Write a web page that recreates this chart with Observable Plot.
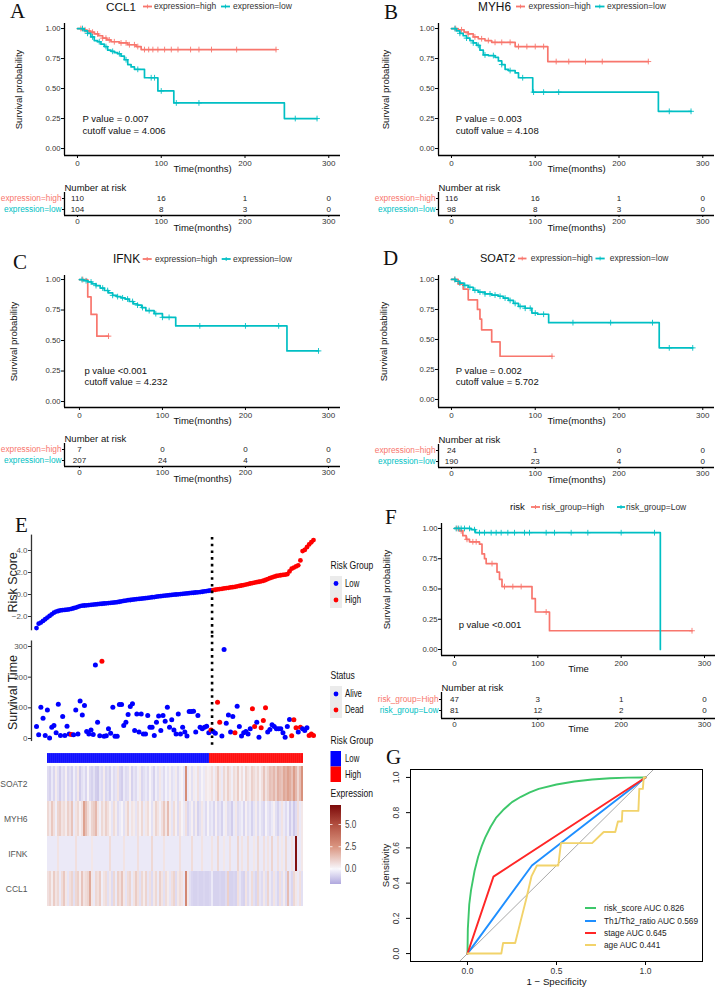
<!DOCTYPE html>
<html><head><meta charset="utf-8">
<script src="https://cdn.jsdelivr.net/npm/d3@7"></script>
<script src="https://cdn.jsdelivr.net/npm/@observablehq/plot@0.6"></script>
<style>
html,body{margin:0;padding:0;background:#fff;}
#fig{position:relative;width:716px;height:991px;overflow:hidden;background:#fff;}
</style></head><body><div id="fig"></div>
<script>
// ================= DATA =================
const kmTicks = [0, 100, 200, 300];
const survTicks = [0, 0.25, 0.5, 0.75, 1];
const exprGroups = ["expression=high", "expression=low"];
const riskGroupsKM = ["risk_group=High", "risk_group=Low"];

// A: CCL1
const ccl1HighTime = [0,5,10,15,20,25,30,35,40,50,60,70,76];
const ccl1HighSurv = [1,0.99,0.98,0.97,0.955,0.94,0.92,0.905,0.89,0.88,0.865,0.85,0.825];
const ccl1HighEnd = 237;
const ccl1HighCensor = [4,9,14,18,24,30,34,38,44,52,58,62,68,72,80,85,90,96,104,112,120,135,145,160,190,237];
const ccl1LowTime = [0,8,12,16,20,24,28,32,36,40,44,48,52,56,60,64,68,80,96,115,247];
const ccl1LowSurv = [1,0.98,0.96,0.93,0.9,0.89,0.87,0.85,0.82,0.81,0.8,0.79,0.77,0.74,0.7,0.68,0.66,0.59,0.48,0.38,0.25];
const ccl1LowEnd = 286;
const ccl1LowCensor = [6,12,18,26,34,42,50,58,72,88,92,100,118,145,260,286];
const ccl1AtRiskHigh = [110,16,1,0];
const ccl1AtRiskLow = [104,8,3,0];

// B: MYH6
const myh6HighTime = [0,8,15,20,26,32,40,48,76,115];
const myh6HighSurv = [1,0.99,0.97,0.955,0.93,0.915,0.9,0.885,0.85,0.725];
const myh6HighEnd = 235;
const myh6HighCensor = [5,12,20,28,36,44,52,60,70,80,90,100,110,125,140,160,180,235];
const myh6LowTime = [0,6,10,14,18,22,26,30,34,38,44,52,56,60,64,68,76,80,97,247];
const myh6LowSurv = [1,0.98,0.96,0.94,0.92,0.9,0.88,0.86,0.82,0.78,0.775,0.76,0.73,0.7,0.66,0.65,0.63,0.59,0.47,0.31];
const myh6LowEnd = 286;
const myh6LowCensor = [4,10,18,26,32,40,50,60,70,85,98,110,128,260,286];
const myh6AtRiskHigh = [116,16,1,0];
const myh6AtRiskLow = [98,8,3,0];

// C: IFNK
const ifnkHighTime = [0,10,14,21];
const ifnkHighSurv = [1,0.857,0.714,0.536];
const ifnkHighEnd = 35;
const ifnkHighCensor = [4,35];
const ifnkLowTime = [0,5,10,15,20,25,30,35,40,45,50,55,60,65,70,75,80,90,100,116,250];
const ifnkLowSurv = [1,0.99,0.98,0.965,0.95,0.93,0.91,0.89,0.87,0.86,0.85,0.84,0.82,0.8,0.79,0.77,0.745,0.72,0.69,0.62,0.415];
const ifnkLowEnd = 288;
const ifnkLowCensor = [3,8,14,20,28,34,40,46,52,58,64,70,76,84,92,100,108,145,200,240,288];
const ifnkAtRiskHigh = [7,0,0,0];
const ifnkAtRiskLow = [207,24,4,0];

// D: SOAT2
const soat2HighTime = [0,8,14,20,31,34,36,48,58];
const soat2HighSurv = [1,0.96,0.92,0.83,0.75,0.67,0.58,0.48,0.36];
const soat2HighEnd = 120;
const soat2HighCensor = [4,120];
const soat2LowTime = [0,5,10,15,20,26,32,40,48,56,62,68,74,80,88,96,103,116,248];
const soat2LowSurv = [1,0.985,0.97,0.95,0.935,0.91,0.895,0.88,0.87,0.86,0.845,0.825,0.8,0.775,0.76,0.72,0.71,0.64,0.43];
const soat2LowEnd = 288;
const soat2LowCensor = [4,10,16,22,28,34,40,46,52,58,64,70,76,82,88,94,100,110,145,190,240,260,288];
const soat2AtRiskHigh = [24,1,0,0];
const soat2AtRiskLow = [190,23,4,0];

// F: risk group
const riskHighTime = [0,6,10,14,18,30,33,36,38,51,54,57,93,97,114];
const riskHighSurv = [1,0.98,0.94,0.91,0.89,0.87,0.79,0.75,0.71,0.64,0.58,0.52,0.42,0.31,0.155];
const riskHighEnd = 285;
const riskHighCensor = [3,8,15,22,26,45,60,70,80,110,285];
const riskLowTime = [0,20,25,247];
const riskLowSurv = [1,0.99,0.965,0];
const riskLowEnd = 247;
const riskLowCensor = [2,5,8,12,18,24,30,36,44,50,56,64,72,84,90,110,120,140,160,200,240];
const riskAtRiskHigh = [47,3,1,0];
const riskAtRiskLow = [81,12,2,0];

// E: risk score, survival time, status (1 = dead)
const riskCutoff = 0.385;
const riskScore = [
 -3.05,-2.65,-2.55,-2.4,-2.25,-2.1,-1.95,-1.8,-1.65,-1.55,
 -1.5,-1.45,-1.42,-1.4,-1.38,-1.35,-1.3,-1.25,-1.2,-1.12,
 -1.05,-1.02,-1.0,-0.98,-0.96,-0.94,-0.92,-0.9,-0.88,-0.86,
 -0.84,-0.82,-0.8,-0.78,-0.76,-0.74,-0.72,-0.7,-0.66,-0.62,
 -0.58,-0.55,-0.52,-0.5,-0.47,-0.45,-0.42,-0.4,-0.38,-0.36,
 -0.33,-0.31,-0.28,-0.25,-0.23,-0.2,-0.17,-0.15,-0.12,-0.1,
 -0.08,-0.06,-0.04,-0.02,0.0,0.02,0.04,0.06,0.08,0.1,
 0.12,0.14,0.16,0.18,0.2,0.22,0.25,0.28,0.31,0.34,0.37,
 0.4,0.43,0.46,0.49,0.52,0.55,0.58,0.61,0.64,0.67,
 0.7,0.74,0.78,0.82,0.86,0.9,0.95,1.0,1.04,1.08,
 1.12,1.16,1.2,1.25,1.32,1.4,1.48,1.55,1.62,1.68,
 1.72,1.75,1.78,1.8,1.85,2.1,2.35,2.45,2.55,2.65,
 3.1,3.95,4.05,4.3,4.55,4.75,4.95];
const survTime = [
 39,12,102,66,10,93,2,37,42,19,
 112,10,72,10,40,15,13,12,93,15,
 122,77,108,23,15,28,13,240,53,9,
 252,7,9,32,17,102,7,7,111,111,
 42,53,78,104,113,26,80,21,80,15,
 15,75,37,37,10,53,73,26,75,56,
 102,37,61,28,15,80,15,37,21,8,
 88,88,89,21,75,37,32,37,40,19,
 28,23,17,118,53,8,290,50,77,21,
 72,19,105,39,8,19,23,15,32,97,
 39,53,4,35,59,100,21,29,45,39,
 32,32,32,19,4,39,62,9,61,35,
 21,37,32,26,35,10,15,10];
const survStatus = [
 0,0,0,0,0,0,0,0,0,0,
 0,0,0,0,0,0,1,0,0,0,
 0,0,0,0,0,0,0,0,0,0,
 1,0,0,0,0,0,0,0,0,0,
 0,0,0,0,0,0,0,0,0,0,
 0,0,0,0,0,0,0,0,0,0,
 0,0,0,0,0,0,0,0,0,0,
 0,0,0,0,0,0,0,0,0,0,
 1,0,0,1,1,0,0,0,0,0,
 0,1,0,0,0,0,0,0,0,1,
 1,0,0,1,1,1,0,0,0,0,
 0,0,0,0,0,0,0,1,1,1,
 0,1,0,0,0,1,1,1];

// E: heatmap expression
const heatGenes = ["SOAT2", "MYH6", "IFNK", "CCL1"];
const soat2Expr = [
 -0.6,-0.8,-0.3,-0.7,0.3,-0.5,-0.9,-0.4,-0.6,0.2,
 -0.7,-0.5,-0.8,-0.2,-0.6,0.4,-0.9,-0.5,-0.3,-0.7,
 0.1,-0.6,-0.8,-0.5,-0.9,-1.0,-0.4,-0.6,0.3,-0.7,
 -0.5,-0.8,-0.2,-0.6,-0.4,0.5,-0.7,-0.9,-0.3,-0.6,
 -0.5,0.2,-0.8,-0.4,-0.6,-0.2,0.3,-0.7,-0.5,-0.3,
 -0.6,0.1,-0.4,-0.8,-0.2,-0.5,0.4,-0.3,-0.6,-0.1,
 -0.4,0.2,-0.5,-0.3,0.3,-0.6,-0.2,0.1,-0.4,2.8,
 -0.3,0.2,-0.5,0.3,-0.2,0.6,-0.4,0.1,-0.3,0.4,0.2,
 0.3,0.6,-0.2,0.5,1.2,0.4,-0.3,0.8,0.3,1.0,
 0.5,-0.2,0.7,0.4,1.1,0.2,0.6,-0.1,0.9,0.5,
 0.3,1.0,0.7,0.4,0.8,0.2,0.6,1.3,0.5,0.9,
 1.4,1.2,1.6,1.0,1.8,1.5,1.3,2.0,1.7,2.2,
 1.9,1.4,2.3,1.6,0.8,1.5,2.6];
const myh6Expr = [
 0.8,0.4,1.2,0.6,-0.2,0.9,1.1,0.5,0.7,0.3,
 1.0,0.6,1.3,-0.3,0.5,0.8,0.2,0.6,2.2,1.4,
 0.7,0.3,0.9,1.1,1.6,0.5,-0.2,0.8,0.4,1.0,
 0.6,0.2,-0.4,0.7,0.3,-0.6,-0.3,0.1,-0.5,0.4,
 0.9,-0.2,0.5,0.3,-0.4,0.6,0.2,0.8,-0.3,0.4,
 0.7,0.1,-0.5,0.3,0.9,0.5,-0.2,0.6,1.2,0.4,
 1.5,0.3,-0.4,0.7,0.2,-0.6,0.5,0.1,-0.3,0.6,
 -0.7,-0.4,0.2,-0.6,0.3,-0.8,-0.5,0.4,-0.3,-0.6,0.1,
 -0.5,-0.3,-0.7,0.2,-0.6,-0.4,-0.8,-0.2,0.3,-0.6,
 -0.5,-0.9,-0.3,0.4,-0.6,-0.4,-0.2,-0.7,0.2,-0.5,
 -0.3,-0.8,-0.4,0.3,-0.6,-0.2,-0.5,-0.7,0.1,-0.4,
 -0.6,-0.3,0.2,-0.5,-0.8,-0.4,0.5,-0.3,-0.6,-0.2,
 -0.9,-0.4,-1.0,-0.6,0.6,-0.3,0.4];
const ifnkExpr = [
 -0.3,-0.3,-0.3,-0.3,-0.3,0.5,-0.3,-0.3,-0.3,-0.3,
 -0.3,-0.3,-0.3,-0.3,0.6,-0.3,-0.3,-0.3,-0.3,-0.3,
 -0.3,-0.3,0.4,-0.3,-0.3,-0.3,-0.3,-0.3,-0.3,-0.3,
 -0.3,0.7,-0.3,-0.3,-0.3,-0.3,-0.3,-0.3,0.5,-0.3,
 -0.3,-0.3,-0.3,-0.3,-0.3,0.6,-0.3,-0.3,-0.3,-0.3,
 -0.3,-0.3,0.8,-0.3,-0.3,-0.3,-0.3,-0.3,0.5,-0.3,
 -0.3,-0.3,-0.3,-0.3,-0.3,-0.3,0.6,-0.3,-0.3,-0.3,
 -0.3,-0.3,0.7,-0.3,-0.3,-0.3,-0.3,0.5,-0.3,-0.3,-0.3,
 -0.3,0.5,-0.3,-0.3,0.8,-0.3,-0.3,0.4,-0.3,-0.3,
 0.6,-0.3,-0.3,-0.3,0.9,-0.3,0.5,-0.3,-0.3,0.7,
 -0.3,-0.3,0.4,-0.3,0.8,-0.3,-0.3,0.6,-0.3,0.5,
 -0.3,0.9,-0.3,-0.3,0.6,-0.3,0.4,-0.3,0.8,-0.3,
 -0.3,0.5,-0.3,7.0,-0.3,-0.3,0.4];
const ccl1Expr = [
 0.6,0.9,0.3,1.1,0.5,0.8,-0.3,0.7,1.2,0.4,
 -0.4,0.6,0.9,-0.5,0.8,1.0,0.3,1.3,0.5,0.7,
 0.9,2.0,0.4,-0.3,0.8,0.6,1.1,-0.2,0.5,0.7,
 -0.5,0.4,-0.6,0.8,-0.3,1.0,0.6,1.3,0.4,-0.4,
 0.7,0.9,-0.3,0.5,1.1,0.6,-0.5,0.8,0.3,0.9,
 -0.4,0.6,-0.6,0.4,0.8,-0.3,1.0,0.5,-0.5,0.7,
 0.3,-0.4,0.6,0.9,-0.6,0.4,0.7,0.5,-0.3,3.0,
 0.4,-0.5,-0.7,-0.8,-0.8,-0.7,-0.8,-0.8,-0.7,-0.8,-0.8,
 -0.7,-0.3,-0.8,-0.8,-0.8,-0.7,-0.8,-0.8,-0.6,1.0,
 -0.8,-0.8,-0.7,-0.8,0.6,-0.4,-0.7,-0.8,0.5,-0.6,
 -0.3,0.7,-0.5,-0.7,0.8,-0.4,-0.6,0.4,-0.5,0.9,
 -0.3,-0.6,0.5,-0.4,-0.7,0.6,-0.5,0.3,-0.6,1.5,
 -0.4,-0.7,0.8,0.4,-0.3,0.6,-0.5];
const heatValues = [soat2Expr, myh6Expr, ifnkExpr, ccl1Expr];
const heatColorDomain = [-1.7, 0, 2.5, 5, 7.2];
const heatColorRange = ["#b0a8de", "#f8f7fc", "#da9580", "#b24f40", "#7c0a0a"];
const exprLegendTicks = [0, 2.5, 5];

// G: ROC
const rocNames = ["risk_score AUC 0.826", "Th1/Th2_ratio AUC 0.569", "stage AUC 0.645", "age AUC 0.441"];
const rocColors = ["#3dc76a", "#1f8fff", "#ff2626", "#f2d36b"];
const riskScoreFPR = [0,0.002,0.01,0.02,0.04,0.06,0.08,0.1,0.13,0.16,0.2,0.25,0.3,0.35,0.4,0.5,0.6,0.7,0.8,0.9,1];
const riskScoreTPR = [0,0.14,0.28,0.36,0.47,0.55,0.61,0.66,0.72,0.77,0.815,0.86,0.89,0.915,0.935,0.96,0.977,0.988,0.995,0.999,1];
const th1th2FPR = [0,0.362,1];
const th1th2TPR = [0,0.5,1];
const stageFPR = [0,0.146,1];
const stageTPR = [0,0.437,1];
const ageFPR = [0,0.19,0.2,0.268,0.3,0.33,0.36,0.39,0.51,0.525,0.70,0.765,0.83,0.845,0.867,0.87,0.96,0.965,0.985,0.99,1];
const ageTPR = [0,0,0.06,0.06,0.19,0.31,0.44,0.5,0.5,0.627,0.627,0.69,0.69,0.75,0.75,0.81,0.81,0.935,0.935,1,1];
const rocXTicks = [0, 0.5, 1];
const rocYTicks = [0, 0.2, 0.4, 0.6, 0.8, 1];

// ================= DRAWING =================
const RED = "#F8766D", TEAL = "#00BFC4";
const BLUE_E = "#0000FF", RED_E = "#FF0000";
const FONT = "'Liberation Sans', Arial, Helvetica, sans-serif";
const SERIF = "'Liberation Serif', 'Times New Roman', serif";
const STYLE = `background:transparent;overflow:visible;max-width:none;font-family:${FONT};`;
const fig = document.getElementById("fig");
function place(svg, left, top) {
  svg.style.position = "absolute";
  svg.style.left = left + "px";
  svg.style.top = top + "px";
  fig.appendChild(svg);
}
function stepRows(time, surv, end) {
  const rows = time.map((t, i) => ({t, s: surv[i]}));
  rows.push({t: end, s: surv[surv.length - 1]});
  return rows;
}
function survAt(time, surv, t) {
  let v = surv[0];
  for (let i = 0; i < time.length; i++) if (time[i] <= t) v = surv[i];
  return v;
}

function drawKM(p) {
  const marks = [
    Plot.ruleX([p.xDomain[0]], {stroke: "#000", strokeWidth: 1.3}),
    Plot.ruleY([p.yDomain[0]], {stroke: "#000", strokeWidth: 1.3}),
    Plot.axisY({ticks: survTicks, tickFormat: d3.format(".2f"), tickSize: 3, tickPadding: 1, fontSize: 7.7, fill: "#333", label: null}),
    Plot.axisX({ticks: kmTicks, tickSize: 3, tickPadding: 2, fontSize: 8, fill: "#333", label: null})
  ];
  for (const g of p.groups) {
    marks.push(Plot.line(stepRows(g.time, g.surv, g.end), {x: "t", y: "s", curve: "step-after", stroke: g.color, strokeWidth: 1.7}));
    marks.push(Plot.dot(g.censor.map(t => ({t, s: survAt(g.time, g.surv, t)})), {x: "t", y: "s", symbol: "plus", r: 2, stroke: g.color, strokeWidth: 0.9}));
  }
  marks.push(Plot.text(p.note, {x: () => p.noteT, y: (d, i) => p.noteS[i], text: d => d, textAnchor: "start", fontSize: 9.5, fill: "#111"}));
  marks.push(Plot.text([p.xLabel], {frameAnchor: "bottom", dy: 16, text: d => d, textAnchor: "middle", fontSize: 9.5, fill: "#111"}));
  marks.push(Plot.text(["Survival probability"], {frameAnchor: "left", dx: p.ylabDx, rotate: -90, text: d => d, textAnchor: "middle", fontSize: 9.5, fill: "#111"}));
  const curve = Plot.plot({
    width: p.width, height: 180, marginLeft: 64, marginRight: p.mR, marginTop: 23, marginBottom: 25,
    x: {domain: p.xDomain}, y: {domain: p.yDomain}, style: STYLE, marks
  });
  place(curve, p.left, p.top);

  const t = p.table;
  const H = t.height - t.mT - t.mB;
  const bottom = (H - t.rowA) / (t.rowB - t.rowA);
  const cells = [];
  p.groups.forEach((g, gi) => g.atRisk.forEach((c, ci) => cells.push({x: kmTicks[ci], y: gi, c})));
  const tmarks = [
    Plot.ruleX([p.xDomain[0]], {stroke: "#000", strokeWidth: 1.3}),
    Plot.ruleY([bottom], {stroke: "#000", strokeWidth: 1.3}),
    Plot.axisX({ticks: kmTicks, tickSize: 2, tickPadding: 1, fontSize: 8, fill: "#333", label: null}),
    ...p.groups.map((g, gi) => Plot.axisY([gi], {tickFormat: () => g.label, fill: g.color, tickSize: 2, tickPadding: 1, fontSize: 8.3, label: null})),
    Plot.text(cells, {x: "x", y: "y", text: "c", fontSize: 8, fill: "#222"}),
    Plot.text(["Number at risk"], {frameAnchor: "top-left", dy: -8, textAnchor: "start", text: d => d, fontSize: 9.5, fill: "#111"}),
    Plot.text([p.xLabel], {frameAnchor: "bottom", dy: t.xLabelDy, textAnchor: "middle", text: d => d, fontSize: 9.5, fill: "#111"})
  ];
  const table = Plot.plot({
    width: p.width, height: t.height, marginLeft: 64, marginRight: p.mR, marginTop: t.mT, marginBottom: t.mB,
    x: {domain: p.xDomain}, y: {domain: [0, 1], range: [t.mT + t.rowA, t.mT + t.rowB]}, style: STYLE, marks: tmarks
  });
  place(table, p.left, p.tableTop);
}

const tblAD = {height: 55, mT: 12, mB: 20, rowA: 6, rowB: 17, xLabelDy: 15};
function exprGroupsFor(hT, hS, hE, hC, hR, lT, lS, lE, lC, lR) {
  return [
    {label: exprGroups[0], color: RED, time: hT, surv: hS, end: hE, censor: hC, atRisk: hR},
    {label: exprGroups[1], color: TEAL, time: lT, surv: lS, end: lE, censor: lC, atRisk: lR}
  ];
}
drawKM({left: 0, top: 0, tableTop: 180, width: 358, mR: 18, xDomain: [-15.5, 314], yDomain: [-0.058, 1.042],
  ylabDx: -46, xLabel: "Time(months)", note: ["P value = 0.007", "cutoff value = 4.006"], noteT: 6, noteS: [0.25, 0.15], table: tblAD,
  groups: exprGroupsFor(ccl1HighTime, ccl1HighSurv, ccl1HighEnd, ccl1HighCensor, ccl1AtRiskHigh, ccl1LowTime, ccl1LowSurv, ccl1LowEnd, ccl1LowCensor, ccl1AtRiskLow)});
drawKM({left: 374, top: 0, tableTop: 180, width: 342, mR: 2, xDomain: [-15.5, 314], yDomain: [-0.058, 1.042],
  ylabDx: -53, xLabel: "Time(months)", note: ["P value = 0.003", "cutoff value = 4.108"], noteT: 5, noteS: [0.25, 0.15], table: tblAD,
  groups: exprGroupsFor(myh6HighTime, myh6HighSurv, myh6HighEnd, myh6HighCensor, myh6AtRiskHigh, myh6LowTime, myh6LowSurv, myh6LowEnd, myh6LowCensor, myh6AtRiskLow)});
drawKM({left: 0, top: 252, tableTop: 431, width: 358, mR: 18, xDomain: [-18, 314.5], yDomain: [-0.049, 1.033],
  ylabDx: -51, xLabel: "Time(months)", note: ["p value <0.001", "cutoff value = 4.232"], noteT: 6, noteS: [0.254, 0.158], table: tblAD,
  groups: exprGroupsFor(ifnkHighTime, ifnkHighSurv, ifnkHighEnd, ifnkHighCensor, ifnkAtRiskHigh, ifnkLowTime, ifnkLowSurv, ifnkLowEnd, ifnkLowCensor, ifnkAtRiskLow)});
drawKM({left: 374, top: 252, tableTop: 432, width: 342, mR: 2, xDomain: [-15.5, 314], yDomain: [-0.067, 1.033],
  ylabDx: -55, xLabel: "Time(months)", note: ["P value = 0.002", "cutoff value = 5.702"], noteT: 5, noteS: [0.236, 0.144], table: tblAD,
  groups: exprGroupsFor(soat2HighTime, soat2HighSurv, soat2HighEnd, soat2HighCensor, soat2AtRiskHigh, soat2LowTime, soat2LowSurv, soat2LowEnd, soat2LowCensor, soat2AtRiskLow)});
drawKM({left: 377, top: 500, tableTop: 681, width: 339, mR: 1, xDomain: [-15.6, 313.2], yDomain: [-0.0496, 1.041],
  ylabDx: -55, xLabel: "Time", note: ["p value <0.001"], noteT: 5, noteS: [0.2],
  table: {height: 55, mT: 11, mB: 18, rowA: 7, rowB: 18, xLabelDy: 13},
  groups: [
    {label: riskGroupsKM[0], color: RED, time: riskHighTime, surv: riskHighSurv, end: riskHighEnd, censor: riskHighCensor, atRisk: riskAtRiskHigh},
    {label: riskGroupsKM[1], color: TEAL, time: riskLowTime, surv: riskLowSurv, end: riskLowEnd, censor: riskLowCensor, atRisk: riskAtRiskLow}
  ]});

// ---------- Panel E ----------
const patients = riskScore.map((score, i) => ({
  i, score, time: survTime[i], dead: survStatus[i] === 1, high: score > riskCutoff
}));
const nLow = patients.filter(d => !d.high).length;
const cutX = nLow - 0.5;
const eX = {domain: [0, patients.length - 1], range: [36, 313], axis: null};

const riskPlot = Plot.plot({
  width: 330, height: 115, marginLeft: 31, marginRight: 0, marginTop: 0, marginBottom: 0,
  x: eX, y: {domain: [-2, 4], range: [96, 30]}, color: {type: "identity"}, style: STYLE,
  marks: [
    Plot.ruleX([-2.3], {y1: -3.3, y2: 5.4, stroke: "#333", strokeWidth: 1.3}),
    Plot.axisY({ticks: [-2, 0, 2, 4], tickSize: 3, tickPadding: 1, fontSize: 8, fill: "#555", stroke: "#333", label: null}),
    Plot.dot(patients, {x: "i", y: "score", fill: d => d.high ? RED_E : BLUE_E, r: 2.4}),
    Plot.ruleX([cutX], {y1: 5.18, y2: -3.73, stroke: "#000", strokeWidth: 2.6, strokeDasharray: "2.6,4.1"}),
    Plot.text(["Risk Score"], {x: () => -11, y: () => 1.1, rotate: -90, text: d => d, textAnchor: "middle", fontSize: 12.5, fill: "#222"})
  ]
});
place(riskPlot, 0, 520);

const timePlot = Plot.plot({
  width: 330, height: 115, marginLeft: 31, marginRight: 0, marginTop: 0, marginBottom: 0,
  x: eX, y: {domain: [0, 300], range: [103, 11]}, color: {type: "identity"}, style: STYLE,
  marks: [
    Plot.ruleX([-2.3], {y1: -10, y2: 318, stroke: "#333", strokeWidth: 1.3}),
    Plot.axisY({ticks: [0, 100, 200, 300], tickSize: 3, tickPadding: 1, fontSize: 8, fill: "#555", stroke: "#333", label: null}),
    Plot.dot(patients, {x: "i", y: "time", fill: d => d.dead ? RED_E : BLUE_E, r: 2.5}),
    Plot.ruleX([cutX], {y1: 336, y2: -23, stroke: "#000", strokeWidth: 2.6, strokeDasharray: "2.6,4.1"}),
    Plot.text(["Survival Time"], {x: () => -11, y: () => 150, rotate: -90, text: d => d, textAnchor: "middle", fontSize: 12.5, fill: "#222"})
  ]
});
place(timePlot, 0, 635);

const bandX = {type: "band", domain: patients.map(d => d.i), range: [35, 314], padding: 0, axis: null};
const barPlot = Plot.plot({
  width: 330, height: 10, margin: 0, x: bandX, color: {type: "identity"}, style: STYLE,
  marks: [Plot.cell(patients, {x: "i", fill: d => d.high ? RED_E : BLUE_E, stroke: "#fff", strokeWidth: 0.25, strokeOpacity: 0.5})]
});
place(barPlot, 0, 753);

const heatRows = heatGenes.flatMap((g, gi) => heatValues[gi].map((v, i) => ({i, gene: g, v})));
const heatPlot = Plot.plot({
  width: 330, height: 140, marginLeft: 31, marginRight: 0, marginTop: 0, marginBottom: 0,
  x: bandX, y: {type: "band", domain: heatGenes, range: [0, 140], padding: 0},
  color: {type: "linear", domain: heatColorDomain, range: heatColorRange, interpolate: "rgb"}, style: STYLE,
  marks: [
    Plot.cell(heatRows, {x: "i", y: "gene", fill: "v"}),
    Plot.axisY({tickSize: 0, tickPadding: 4, fontSize: 8.5, fill: "#555", label: null})
  ]
});
place(heatPlot, 0, 766);

// ---------- Panel G ----------
const rocSeries = [
  {fpr: riskScoreFPR, tpr: riskScoreTPR},
  {fpr: th1th2FPR, tpr: th1th2TPR},
  {fpr: stageFPR, tpr: stageTPR},
  {fpr: ageFPR, tpr: ageTPR}
];
const rocYDomain = [-0.045, 1.045];
const rocPlot = Plot.plot({
  width: 358, height: 251, marginLeft: 52, marginRight: 14, marginTop: 29, marginBottom: 30,
  x: {domain: [-0.32, 1.32]}, y: {domain: rocYDomain}, style: STYLE,
  marks: [
    Plot.line(rocYDomain, {x: d => d, y: d => d, stroke: "#a8a8a8", strokeWidth: 1}),
    ...rocSeries.map((s, k) => Plot.line(s.fpr.map((f, j) => ({f, t: s.tpr[j]})), {x: "f", y: "t", stroke: rocColors[k], strokeWidth: 1.9})),
    Plot.frame({stroke: "#000", strokeWidth: 1}),
    Plot.axisX({ticks: rocXTicks, tickFormat: d3.format(".1f"), tickSize: 4, tickPadding: 2, fontSize: 8.5, fill: "#333", label: null}),
    Plot.axisY({ticks: rocYTicks, tickFormat: () => "", tickSize: 4, label: null}),
    Plot.text(rocYTicks, {y: d => d, frameAnchor: "left", dx: -14, rotate: -90, text: d => d3.format(".1f")(d), textAnchor: "middle", fontSize: 8.5, fill: "#333"}),
    Plot.text(["1 \u2212 Specificity"], {frameAnchor: "bottom", dy: 23, text: d => d, textAnchor: "middle", fontSize: 9.7, fill: "#111"}),
    Plot.text(["Sensitivity"], {frameAnchor: "left", dx: -25, rotate: -90, text: d => d, textAnchor: "middle", fontSize: 9.7, fill: "#111"})
  ]
});
place(rocPlot, 358, 740);

// ---------- Overlay: letters, titles, legends ----------
const ov = d3.create("svg").attr("width", 716).attr("height", 991)
  .style("position", "absolute").style("left", "0px").style("top", "0px").style("font-family", FONT);
function T(s, x, y, o = {}) {
  const t = ov.append("text").attr("x", x).attr("y", y).attr("dy", "0.35em")
    .attr("font-size", o.size || 9).attr("fill", o.color || "#111")
    .attr("text-anchor", o.anchor || "start").text(s);
  if (o.family) t.attr("font-family", o.family);
  if (o.sx) t.attr("transform", `translate(${x},0) scale(${o.sx},1) translate(${-x},0)`);
  return t;
}
function seg(x1, x2, y, color) {
  ov.append("line").attr("x1", x1).attr("x2", x2).attr("y1", y).attr("y2", y).attr("stroke", color).attr("stroke-width", 1.8);
  const m = (x1 + x2) / 2;
  ov.append("line").attr("x1", m).attr("x2", m).attr("y1", y - 2).attr("y2", y + 2).attr("stroke", color).attr("stroke-width", 0.9);
}
function letter(s, x, y) { T(s, x, y, {size: 21, family: SERIF, color: "#111"}); }

// KM headers
const legendItems = (y, items) => items.forEach(it => { seg(it.x1, it.x2, y, it.color); T(it.label, it.lx, y, {size: 8.5, color: "#333"}); });
letter("A", 10, 11);
T("CCL1", 106, 6.5, {size: 11.7});
legendItems(6.5, [{x1: 143, x2: 152, color: RED, label: exprGroups[0], lx: 154}, {x1: 221, x2: 230, color: TEAL, label: exprGroups[1], lx: 233}]);
letter("B", 384, 11.5);
T("MYH6", 478, 6.5, {size: 11.9});
legendItems(6.5, [{x1: 516, x2: 525, color: RED, label: exprGroups[0], lx: 528.5}, {x1: 595, x2: 604.5, color: TEAL, label: exprGroups[1], lx: 607}]);
letter("C", 13, 262);
T("IFNK", 113, 259, {size: 11.9});
legendItems(259, [{x1: 142.7, x2: 151.7, color: RED, label: exprGroups[0], lx: 155}, {x1: 221.7, x2: 230.7, color: TEAL, label: exprGroups[1], lx: 233}]);
letter("D", 383, 258);
T("SOAT2", 480, 258.5, {size: 11});
legendItems(258.5, [{x1: 518, x2: 526.5, color: RED, label: exprGroups[0], lx: 530.7}, {x1: 595.5, x2: 604.7, color: TEAL, label: exprGroups[1], lx: 609.7}]);
letter("E", 15, 525);
letter("F", 385, 516.5);
T("risk", 510, 507, {size: 9.6});
legendItems(507, [{x1: 531, x2: 540, color: RED, label: riskGroupsKM[0], lx: 542}, {x1: 617, x2: 625, color: TEAL, label: riskGroupsKM[1], lx: 626}]);
letter("G", 386, 757);

// E legends
const SX = 0.78;
T("Risk Group", 330.5, 565, {size: 11, sx: SX});
ov.append("rect").attr("x", 330).attr("y", 576).attr("width", 12).attr("height", 32).attr("fill", "#ebebeb");
ov.append("circle").attr("cx", 336).attr("cy", 583.5).attr("r", 2.4).attr("fill", BLUE_E);
ov.append("circle").attr("cx", 336).attr("cy", 600).attr("r", 2.4).attr("fill", RED_E);
T("Low", 345, 583.5, {size: 10, sx: SX});
T("High", 345, 600, {size: 10, sx: SX});
T("Status", 330.5, 675, {size: 11, sx: SX});
ov.append("rect").attr("x", 330).attr("y", 686).attr("width", 12).attr("height", 32).attr("fill", "#ebebeb");
ov.append("circle").attr("cx", 336).attr("cy", 694).attr("r", 2.4).attr("fill", BLUE_E);
ov.append("circle").attr("cx", 336).attr("cy", 710).attr("r", 2.4).attr("fill", RED_E);
T("Alive", 345, 694, {size: 10, sx: SX});
T("Dead", 345, 710, {size: 10, sx: SX});
T("Risk Group", 330.5, 740, {size: 11, sx: SX});
ov.append("rect").attr("x", 330.5).attr("y", 751).attr("width", 10.5).attr("height", 15.5).attr("fill", BLUE_E);
ov.append("rect").attr("x", 330.5).attr("y", 766.5).attr("width", 10.5).attr("height", 15.5).attr("fill", RED_E);
T("Low", 345, 759, {size: 10, sx: SX});
T("High", 345, 775, {size: 10, sx: SX});
T("Expression", 330.5, 793, {size: 11, sx: SX});
// gradient color bar for expression
const barTop = 805, barBot = 884;
const vMax = heatColorDomain[heatColorDomain.length - 1], vMin = heatColorDomain[0];
const grad = ov.append("defs").append("linearGradient").attr("id", "exprGrad").attr("x1", 0).attr("x2", 0).attr("y1", 0).attr("y2", 1);
heatColorDomain.slice().reverse().forEach((v, k) => {
  grad.append("stop").attr("offset", ((vMax - v) / (vMax - vMin) * 100) + "%").attr("stop-color", heatColorRange[heatColorRange.length - 1 - k]);
});
ov.append("rect").attr("x", 330).attr("y", barTop).attr("width", 11).attr("height", barBot - barTop).attr("fill", "url(#exprGrad)");
exprLegendTicks.forEach(v => {
  const yy = barTop + (vMax - v) / (vMax - vMin) * (barBot - barTop);
  ov.append("line").attr("x1", 330).attr("x2", 332.5).attr("y1", yy).attr("y2", yy).attr("stroke", "#fff").attr("stroke-width", 0.8);
  ov.append("line").attr("x1", 338.5).attr("x2", 341).attr("y1", yy).attr("y2", yy).attr("stroke", "#fff").attr("stroke-width", 0.8);
  T(d3.format(".1f")(v), 345, yy, {size: 10, sx: 0.82, color: "#444"});
});

// ROC legend
[908, 921, 933, 945].forEach((yy, k) => {
  ov.append("line").attr("x1", 585).attr("x2", 596).attr("y1", yy).attr("y2", yy).attr("stroke", rocColors[k]).attr("stroke-width", 2);
  T(rocNames[k], 604, yy, {size: 8.3, color: "#222"});
});

fig.appendChild(ov.node());
</script></body></html>
